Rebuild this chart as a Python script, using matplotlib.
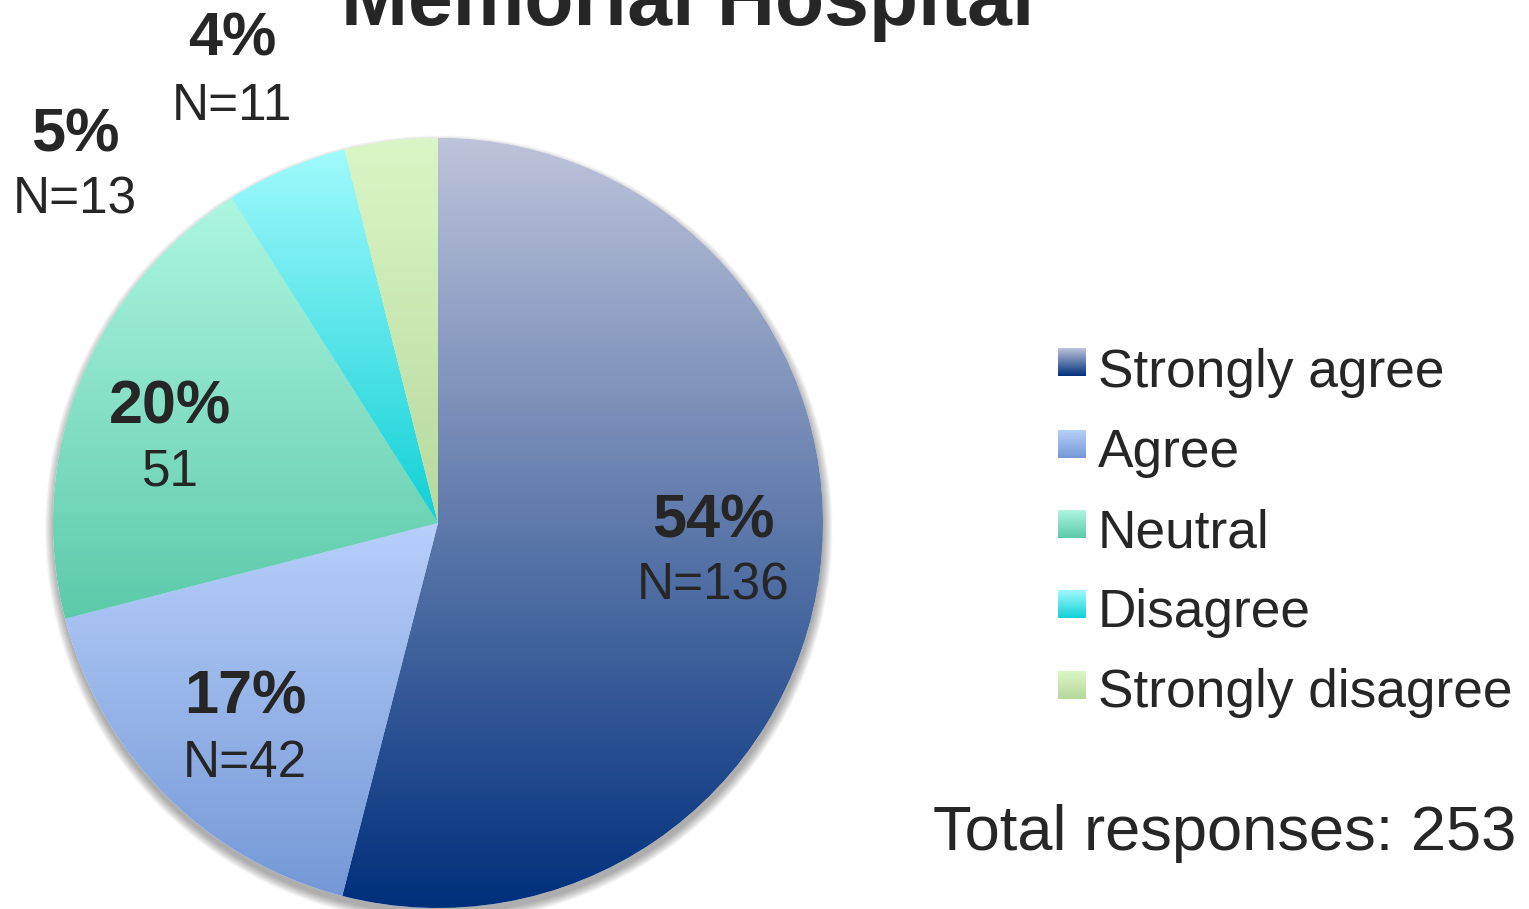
import numpy as np
import matplotlib
matplotlib.use("Agg")
import matplotlib.pyplot as plt
from matplotlib.colors import LinearSegmentedColormap
from matplotlib.patches import Circle

plt.rcParams["font.family"] = ["Liberation Sans", "DejaVu Sans"]

categories = ["Strongly agree", "Agree", "Neutral", "Disagree", "Strongly disagree"]
counts = [136, 42, 51, 13, 11]
# wedge shares as drawn in the picture (percent)
shares = [54.0, 17.0, 20.0, 5.1, 3.9]
pct_labels = ["54%", "17%", "20%", "5%", "4%"]
n_labels = ["N=136", "N=42", "51", "N=13", "N=11"]
top_colors = ["#bdc3da", "#b7cffb", "#aef6e0", "#a0fafc", "#daf6c6"]
bottom_colors = ["#00307c", "#7598d6", "#5ccaaa", "#10d0d6", "#b8d89c"]
title = "Memorial Hospital"
total_text = f"Total responses: {sum(counts)}"

# label positions in pixels (x centre, baseline of % line, baseline of N line)
label_pos = [(713, 538, 600), (245, 713, 777), (170, 423, 486), (75, 152, 213), (232, 55, 120)]

W, H = 1529, 909
TXT = "#262626"
fig = plt.figure(figsize=(W / 100, H / 100), dpi=100)

# pie axes: centre (438, 523), radius 385 px
cx, cy, r = 438, 523, 385
ax = fig.add_axes([(cx - r) / W, (H - cy - r) / H, 2 * r / W, 2 * r / H])
ax.set_aspect("equal")
ax.axis("off")

# soft shadow, mostly below the pie
for i in range(10):
    ax.add_patch(Circle((0.002, -0.016), 1 + 0.0025 * i, color="#000000",
                        alpha=0.035, lw=0, zorder=0, clip_on=False))
ax.add_patch(Circle((0, 0), 1, color="white", lw=0, zorder=0.5, clip_on=False))

wedges, _ = ax.pie(shares, startangle=90, counterclock=False, radius=1,
                   colors=top_colors, wedgeprops=dict(linewidth=0))
grad = np.linspace(0, 1, 256).reshape(-1, 1)
for w, c0, c1 in zip(wedges, top_colors, bottom_colors):
    w.set_clip_on(False)
    ext = w.get_path().get_extents()
    cmap = LinearSegmentedColormap.from_list("g", [c0, c1])
    im = ax.imshow(grad, cmap=cmap, aspect="auto", origin="upper",
                   extent=[ext.x0, ext.x1, ext.y0, ext.y1], zorder=2,
                   interpolation="bilinear")
    im.set_clip_path(w)
ax.set_xlim(-1, 1)
ax.set_ylim(-1, 1)

# overlay axes in pixel coordinates
ov = fig.add_axes([0, 0, 1, 1])
ov.set_xlim(0, W)
ov.set_ylim(H, 0)
ov.axis("off")

ov.text(688, 25, title, ha="center", va="baseline", fontsize=58,
        fontweight="bold", color=TXT)

for (x, yb1, yb2), p, n in zip(label_pos, pct_labels, n_labels):
    ov.text(x, yb1, p, ha="center", va="baseline", fontsize=44,
            fontweight="bold", color=TXT)
    ov.text(x, yb2, n, ha="center", va="baseline", fontsize=37, color=TXT)

# legend
sq_tops = [348, 430, 510, 590, 671]
txt_base = [387, 467, 547, 627, 707]
sq = 28
for name, t, b, c0, c1 in zip(categories, sq_tops, txt_base, top_colors, bottom_colors):
    cmap = LinearSegmentedColormap.from_list("g", [c0, c1])
    ov.imshow(grad, cmap=cmap, aspect="auto", origin="upper",
              extent=[1058, 1058 + sq, t + sq, t], interpolation="bilinear")
    ov.text(1098, b, name, ha="left", va="baseline", fontsize=38.3, color=TXT)
ov.set_xlim(0, W)
ov.set_ylim(H, 0)

ov.text(933, 850, total_text, ha="left", va="baseline", fontsize=45.5, color=TXT)

fig.savefig("out.png", dpi=100)
